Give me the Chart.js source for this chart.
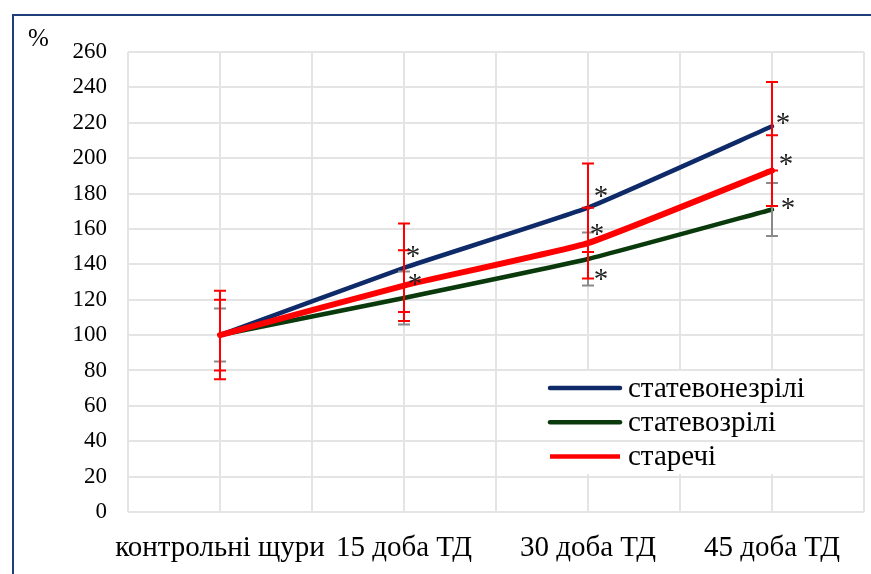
<!DOCTYPE html>
<html lang="uk">
<head>
<meta charset="utf-8">
<title>Динаміка показника, %</title>
<script src="https://cdn.jsdelivr.net/npm/chart.js@4.4.1/dist/chart.umd.min.js"></script>
<style>
  html, body { margin: 0; padding: 0; background: #ffffff; }
  #wrap { width: 871px; height: 574px; }
  canvas { display: block; }
</style>
</head>
<body>
<div id="wrap"><canvas id="chart" width="871" height="574"></canvas></div>
<script>
// Categories on the horizontal axis
const categories = ['контрольні щури', '15 доба ТД', '30 доба ТД', '45 доба ТД'];

// Series names
const seriesNames = ['статевонезрілі', 'статевозрілі', 'старечі'];

// Mean values, % of control
const immature = [100, 138, 172, 218];
const mature   = [100, 121, 143, 171];
const senile   = [100, 128, 152, 193];

// Error bar half-widths, %
const immatureErr = [25, 25, 25, 25];
const matureErr   = [15, 15, 15, 15];
const senileErr   = [20, 20, 20, 20];

// Significant difference from control (marked with *)
const immatureSig = [false, true, true, true];
const matureSig   = [false, false, true, true];
const senileSig   = [false, true, true, true];

// Y axis ticks
const yTicks = [0, 20, 40, 60, 80, 100, 120, 140, 160, 180, 200, 220, 240, 260];

const SERIF = '"Liberation Serif", "Times New Roman", serif';
const GRID = '#e4e4e4';

const toPoints = arr => arr.map((v, i) => ({ x: i, y: v }));

// Outer frame and the "%" axis caption
const framePlugin = {
  id: 'frame',
  beforeDraw(chart) {
    const ctx = chart.ctx;
    ctx.save();
    ctx.fillStyle = '#ffffff';
    ctx.fillRect(0, 0, chart.width, chart.height);
    ctx.strokeStyle = '#1f3d7a';
    ctx.lineWidth = 2;
    ctx.strokeRect(13, 15, chart.width + 20, chart.height + 20);
    ctx.fillStyle = '#000000';
    ctx.font = '25px ' + SERIF;
    ctx.textAlign = 'left';
    ctx.textBaseline = 'alphabetic';
    ctx.fillText('%', 28, 46);
    ctx.restore();
  }
};

// Legend box inside the plot area (covers the vertical grid lines only)
const legendBox = { left: 540, top: 371, right: 818, bottom: 474 };
const insideLegendPlugin = {
  id: 'insideLegend',
  beforeDatasetsDraw(chart) {
    const ctx = chart.ctx;
    const y = chart.scales.y;
    ctx.save();
    ctx.fillStyle = '#ffffff';
    ctx.fillRect(legendBox.left, legendBox.top, legendBox.right - legendBox.left, legendBox.bottom - legendBox.top);
    ctx.strokeStyle = GRID;
    ctx.lineWidth = 2;
    yTicks.forEach(t => {
      const py = Math.round(y.getPixelForValue(t));
      if (py > legendBox.top && py < legendBox.bottom) {
        ctx.beginPath();
        ctx.moveTo(legendBox.left, py);
        ctx.lineTo(legendBox.right, py);
        ctx.stroke();
      }
    });
    ctx.restore();
  },
  afterDraw(chart) {
    const ctx = chart.ctx;
    const x0 = 550, x1 = 620, tx = 628, y0 = 388, dy = 34.2;
    ctx.save();
    ctx.font = '29px ' + SERIF;
    ctx.textAlign = 'left';
    ctx.textBaseline = 'middle';
    chart.data.datasets.forEach((ds, i) => {
      const yy = y0 + i * dy;
      ctx.strokeStyle = ds.borderColor;
      ctx.lineWidth = 4.5;
      ctx.lineCap = i === 2 ? 'butt' : 'round';
      ctx.beginPath();
      ctx.moveTo(x0, yy);
      ctx.lineTo(x1, yy);
      ctx.stroke();
      ctx.fillStyle = '#000000';
      ctx.fillText(ds.label, tx, yy + 1);
    });
    ctx.restore();
  }
};

// Error bars and significance marks
const errorBarPlugin = {
  id: 'errorBars',
  afterDatasetsDraw(chart, args, opts) {
    const ctx = chart.ctx;
    const xs = chart.scales.x, ys = chart.scales.y;
    const cap = 6;
    ctx.save();
    opts.drawOrder.forEach(di => {
      const ds = chart.data.datasets[di];
      ctx.strokeStyle = ds.errColor;
      ctx.lineWidth = 2;
      ds.data.forEach((p, i) => {
        const e = ds.err[i];
        const px = Math.round(xs.getPixelForValue(p.x));
        const top = ys.getPixelForValue(p.y + e);
        const bot = ys.getPixelForValue(p.y - e);
        ctx.beginPath();
        ctx.moveTo(px, top);
        ctx.lineTo(px, bot);
        ctx.moveTo(px - cap, top);
        ctx.lineTo(px + cap, top);
        ctx.moveTo(px - cap, bot);
        ctx.lineTo(px + cap, bot);
        ctx.stroke();
      });
    });
    // asterisks
    ctx.fillStyle = '#222222';
    ctx.font = '29px ' + SERIF;
    ctx.textAlign = 'center';
    ctx.textBaseline = 'alphabetic';
    chart.data.datasets.forEach((ds, di) => {
      ds.sig.forEach((s, i) => {
        if (!s) return;
        const off = opts.markOffsets[di][i];
        const px = xs.getPixelForValue(ds.data[i].x) + off[0];
        const py = ys.getPixelForValue(ds.data[i].y) + off[1];
        ctx.fillText('*', px, py + 15);
      });
    });
    ctx.restore();
  }
};

const chart = new Chart(document.getElementById('chart'), {
  type: 'line',
  data: {
    datasets: [
      {
        label: seriesNames[0], data: toPoints(immature), err: immatureErr, sig: immatureSig,
        borderColor: '#0e2a68', errColor: '#ff0000', borderWidth: 4.5, order: 2
      },
      {
        label: seriesNames[1], data: toPoints(mature), err: matureErr, sig: matureSig,
        borderColor: '#0a3a0c', errColor: '#8a8a8a', borderWidth: 4.5, order: 3
      },
      {
        label: seriesNames[2], data: toPoints(senile), err: senileErr, sig: senileSig,
        borderColor: '#ff0000', errColor: '#ff0000', borderWidth: 6, order: 1
      }
    ]
  },
  options: {
    responsive: false,
    devicePixelRatio: 1,
    animation: false,
    layout: { padding: { top: 52, right: 7, left: 0, bottom: 0 } },
    elements: {
      point: { radius: 0, hoverRadius: 0 },
      line: { tension: 0.12, fill: false, borderCapStyle: 'round', borderJoinStyle: 'round' }
    },
    plugins: {
      legend: { display: false },
      tooltip: { enabled: false },
      errorBars: {
        drawOrder: [1, 0, 2],
        markOffsets: [
          [null, [9, -18], [13, -18], [11, -9]],
          [null, null, [13, 14], [16, -7]],
          [null, [11, -8], [9, -15], [14, -13]]
        ]
      }
    },
    scales: {
      x: {
        type: 'linear',
        min: -0.5,
        max: 3.5,
        afterFit(s) {
          s.height = 62;
          s.paddingLeft = 0;
          s.paddingRight = 0;
        },
        afterBuildTicks(s) {
          const t = [];
          for (let v = -0.5; v <= 3.5; v += 0.5) t.push({ value: v });
          s.ticks = t;
        },
        grid: { color: GRID, lineWidth: 2, drawTicks: false },
        border: { display: false },
        ticks: {
          autoSkip: false,
          maxRotation: 0,
          minRotation: 0,
          padding: 19,
          color: '#000000',
          font: { family: SERIF, size: 29 },
          callback: v => (Number.isInteger(v) ? categories[v] : '')
        }
      },
      y: {
        min: 0,
        max: 260,
        afterFit(s) { s.width = 128; },
        afterBuildTicks(s) { s.ticks = yTicks.map(v => ({ value: v })); },
        grid: { color: GRID, lineWidth: 2, drawTicks: false },
        border: { display: false },
        ticks: {
          padding: 21,
          color: '#000000',
          font: { family: SERIF, size: 23 }
        }
      }
    }
  },
  plugins: [framePlugin, insideLegendPlugin, errorBarPlugin]
});
</script>
</body>
</html>
